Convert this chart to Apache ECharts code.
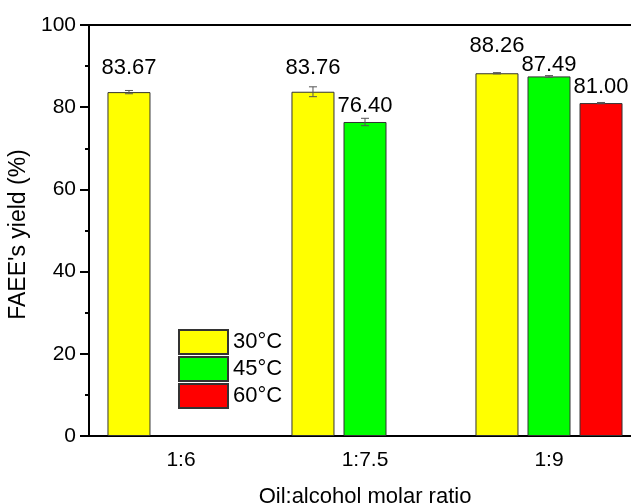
<!DOCTYPE html>
<html>
<head>
<meta charset="utf-8">
<script src="https://cdn.jsdelivr.net/npm/echarts@6/dist/echarts.min.js"></script>
<style>
  html, body { margin: 0; padding: 0; background: #fff; overflow: hidden; }
  /* the plot frame runs past the right edge of the page, so the canvas is wider than the window */
  #chart { width: 660px; height: 503px; }
</style>
</head>
<body>
<div id="chart"></div>
<script>
// Oil:alcohol molar ratios on the category axis
const ratios = ['1:6', '1:7.5', '1:9'];
// Reaction temperatures (one bar series each)
const temps = ['30°C', '45°C', '60°C'];
// Mean FAEE yield (%) per temperature, ordered by ratio
const yield30 = [83.67, 83.76, 88.26];
const yield45 = [null, 76.40, 87.49];
const yield60 = [null, null, 81.00];
// Standard deviation of each yield
const err30 = [0.4, 1.2, 0.15];
const err45 = [null, 0.9, 0.2];
const err60 = [null, null, 0.15];
// Y axis ticks
const yTicks = [0, 20, 40, 60, 80, 100];

const FONT = 'Liberation Sans, Arial, sans-serif';
const colors = ['#ffff00', '#00ff00', '#ff0000'];
const BAR_W = 43;
const GAP_RATIO = 0.21;
// Extra lift of each value label above its bar (px), per series then ratio
const labelLift = [[13, 13, 16], [0, 5, 0], [0, 0, 5]];

const yields = [yield30, yield45, yield60];
const errs = [err30, err45, err60];

const step = BAR_W * (1 + GAP_RATIO);
const barSeries = temps.map((t, s) => ({
  name: t,
  type: 'bar',
  barWidth: BAR_W,
  barGap: (GAP_RATIO * 100) + '%',
  itemStyle: { color: colors[s], borderColor: '#333', borderWidth: 1 },
  data: yields[s].map((v, i) => v == null ? null : {
    value: v,
    label: {
      show: true, position: 'top', distance: labelLift[s][i],
      formatter: p => Number(p.value).toFixed(2),
      fontFamily: FONT, fontSize: 22, color: '#000'
    }
  })
}));

const errSeries = temps.map((t, s) => ({
  type: 'custom',
  z: 5,
  silent: true,
  data: yields[s].map((v, i) => v == null ? null : [i, v, errs[s][i]]).filter(d => d),
  encode: { x: 0, y: 1 },
  renderItem: function (params, api) {
    const idx = api.value(0), v = api.value(1), e = api.value(2);
    const dx = (s - 1) * step;
    const hi = api.coord([idx, v + e]);
    const lo = api.coord([idx, v - e]);
    const x = hi[0] + dx, cap = 4;
    const style = { stroke: '#555', lineWidth: 1 };
    return {
      type: 'group',
      children: [
        { type: 'line', shape: { x1: x, y1: hi[1], x2: x, y2: lo[1] }, style },
        { type: 'line', shape: { x1: x - cap, y1: hi[1], x2: x + cap, y2: hi[1] }, style },
        { type: 'line', shape: { x1: x - cap, y1: lo[1], x2: x + cap, y2: lo[1] }, style }
      ]
    };
  }
}));

const chart = echarts.init(document.getElementById('chart'), null, { renderer: 'canvas' });
chart.setOption({
  animation: false,
  backgroundColor: '#fff',
  textStyle: { fontFamily: FONT },
  grid: { left: 89, top: 25, width: 552, height: 411, containLabel: false, outerBoundsMode: 'none' },
  legend: {
    data: temps,
    orient: 'vertical',
    left: 178, top: 329,
    padding: 0,
    itemWidth: 49, itemHeight: 24, itemGap: 1,
    icon: 'rect',
    textStyle: { fontFamily: FONT, fontSize: 22, lineHeight: 24, color: '#000' }
  },
  xAxis: [
    {
      type: 'category', data: ratios, position: 'bottom',
      name: 'Oil:alcohol molar ratio', nameLocation: 'middle', nameGap: 50,
      nameTextStyle: { fontFamily: FONT, fontSize: 22, color: '#000' },
      axisLine: { lineStyle: { color: '#000', width: 2 } },
      axisTick: { alignWithLabel: true, length: 8, lineStyle: { color: '#000', width: 2 } },
      axisLabel: { fontFamily: FONT, fontSize: 21, color: '#000', margin: 14 },
      splitLine: { show: false }
    },
    {
      type: 'category', data: ratios, position: 'bottom', offset: 0,
      axisLine: { show: false },
      axisTick: { length: 5, lineStyle: { color: '#000', width: 2 } },
      axisLabel: { show: false },
      splitLine: { show: false }
    },
    {
      type: 'category', data: ratios, position: 'top',
      axisLine: { lineStyle: { color: '#000', width: 2 } },
      axisTick: { alignWithLabel: true, inside: true, length: 7, lineStyle: { color: '#000', width: 2 } },
      axisLabel: { show: false },
      splitLine: { show: false }
    }
  ],
  yAxis: {
    type: 'value', min: yTicks[0], max: yTicks[yTicks.length - 1],
    interval: yTicks[1] - yTicks[0],
    name: "FAEE's yield (%)", nameLocation: 'middle', nameGap: 43,
    nameTextStyle: { fontFamily: FONT, fontSize: 23, color: '#000', padding: [0, 8, 0, 0] },
    axisLine: { show: true, lineStyle: { color: '#000', width: 2 } },
    axisTick: { show: true, length: 9, lineStyle: { color: '#000', width: 2 } },
    minorTick: { show: true, splitNumber: 2, length: 4, lineStyle: { color: '#000', width: 2 } },
    axisLabel: { fontFamily: FONT, fontSize: 21, color: '#000', margin: 13 },
    splitLine: { show: false }
  },
  series: barSeries.concat(errSeries)
});
</script>
</body>
</html>
